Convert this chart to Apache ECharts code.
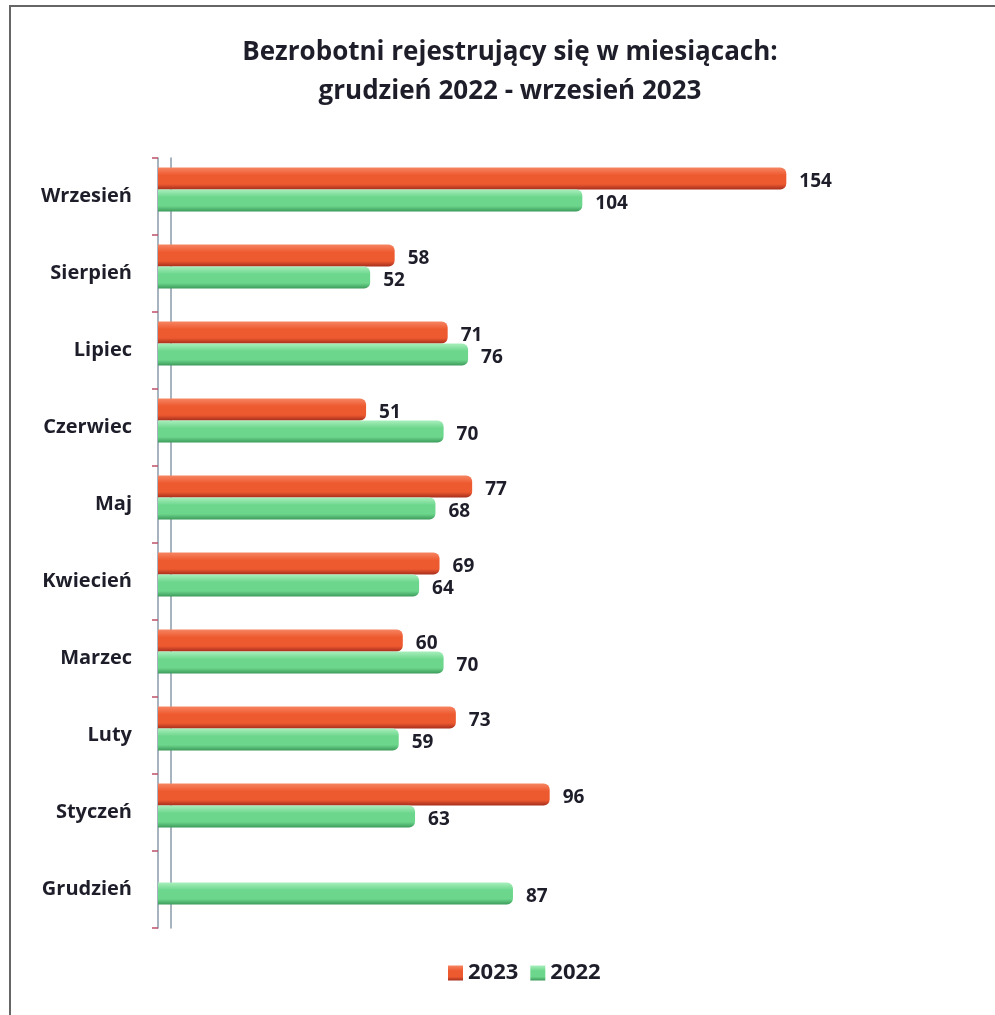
<!DOCTYPE html>
<html>
<head>
<meta charset="utf-8">
<script src="https://cdn.jsdelivr.net/npm/echarts@6/dist/echarts.min.js"></script>
<style>
  html, body { margin: 0; padding: 0; background: #fff; }
  #frame { position: absolute; left: 9px; top: 5px; width: 1010px; height: 1030px; border: 2px solid #666; box-sizing: border-box; }
  #chart { position: absolute; left: 0; top: 0; width: 995px; height: 1015px; }
</style>
</head>
<body>
<div id="frame"></div>
<div id="chart"></div>
<script>
const categories = ['Grudzień', 'Styczeń', 'Luty', 'Marzec', 'Kwiecień', 'Maj', 'Czerwiec', 'Lipiec', 'Sierpień', 'Wrzesień'];
const values2023 = [null, 96, 73, 60, 69, 77, 51, 71, 58, 154];
const values2022 = [87, 63, 59, 70, 64, 68, 70, 76, 52, 104];
const seriesNames = ['2023', '2022'];

const FONT = '"Open Sans", sans-serif';
const TXT = '#1e1e2a';

function grad(top, mid, bot) {
  return new echarts.graphic.LinearGradient(0, 0, 0, 1, [
    { offset: 0, color: top },
    { offset: 0.35, color: mid },
    { offset: 0.75, color: mid },
    { offset: 1, color: bot }
  ]);
}

const labelStyle = {
  show: true, position: 'right', distance: 13, offset: [0, 3],
  fontFamily: FONT, fontWeight: 'bold', fontSize: 19, color: TXT
};

const chart = echarts.init(document.getElementById('chart'), null, { renderer: 'canvas' });
chart.setOption({
  animation: false,
  backgroundColor: 'transparent',
  title: {
    text: 'Bezrobotni rejestrujący się w miesiącach:\ngrudzień 2022 - wrzesień 2023',
    left: 505, top: 28, textAlign: 'center',
    textStyle: { fontFamily: FONT, fontWeight: 'bold', fontSize: 26, lineHeight: 39, color: TXT }
  },
  legend: {
    data: seriesNames,
    left: 443, top: 957,
    itemWidth: 15, itemHeight: 15, itemGap: 12,
    icon: 'rect',
    textStyle: { fontFamily: FONT, fontWeight: 'bold', fontSize: 22, color: TXT }
  },
  grid: { left: 158, top: 158, width: 816, height: 770 },
  xAxis: { type: 'value', min: 0, max: 200, show: false },
  yAxis: [
    {
      type: 'category', data: categories, position: 'left', offset: 6,
      axisLine: { show: true, lineStyle: { color: '#8a9aa8', width: 1.5 } },
      axisTick: { show: true, length: 6, lineStyle: { color: '#c0506a', width: 1.5 } },
      axisLabel: { fontFamily: FONT, fontWeight: 'bold', fontSize: 20, color: TXT, margin: 20 }
    },
    {
      type: 'category', data: categories, position: 'left', offset: -13,
      axisLine: { show: true, lineStyle: { color: '#8a9aa8', width: 1.5 } },
      axisTick: { show: false }, axisLabel: { show: false }
    }
  ],
  series: [
    {
      name: seriesNames[0], type: 'bar', data: values2023, barWidth: 22, barGap: '0%',
      itemStyle: { color: grad('#f68562', '#ee5a30', '#a52e1c'), borderRadius: [0, 6, 6, 0] },
      label: labelStyle
    },
    {
      name: seriesNames[1], type: 'bar', data: values2022, barWidth: 22, barGap: '0%',
      itemStyle: { color: grad('#a8efbc', '#6cd68c', '#3c9a5a'), borderRadius: [0, 6, 6, 0] },
      label: labelStyle
    },
    {
      name: 'spacer', type: 'bar', data: [], barWidth: 14, barGap: '0%', silent: true
    }
  ]
});
</script>
</body>
</html>
